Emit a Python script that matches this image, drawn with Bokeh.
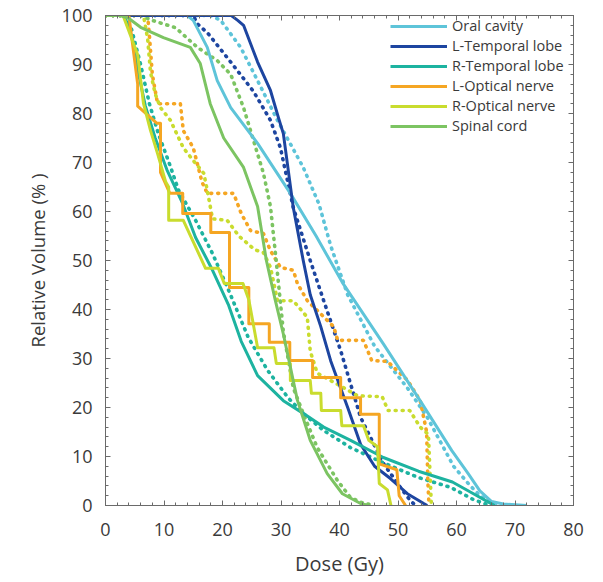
from bokeh.plotting import figure
from bokeh.models import LinearAxis, Range1d, FixedTicker
from bokeh.embed import file_html
from bokeh.resources import INLINE

# ---------------- data (Dose in Gy, Relative volume in %) ----------------
series_names = ["Oral cavity", "L-Temporal lobe", "R-Temporal lobe",
                "L-Optical nerve", "R-Optical nerve", "Spinal cord"]
series_colors = ["#5ec4d9", "#1d45a0", "#1db3a0", "#f5a623", "#c9dc2e", "#7cc462"]

oral_solid_x = [0, 14, 15, 17.4, 19.1, 21.4, 26, 31.6, 36, 40.5, 47.5, 54, 59.2, 62, 64, 66, 68, 72]
oral_solid_y = [100, 100, 99, 93.5, 86.7, 81.2, 73.9, 63.7, 55, 45.5, 33, 21, 11.2, 6.5, 3, 0.8, 0.3, 0]
oral_dot_x = [0, 18, 19.7, 23.1, 26, 29.4, 33.8, 36.5, 38.5, 41.4, 46, 51.6, 55, 59.5, 62, 64, 66, 67]
oral_dot_y = [100, 100, 99, 93.5, 86.7, 78.6, 69, 61.5, 53, 43, 32.5, 24, 18, 8, 4.5, 2, 0.5, 0]

ltemp_solid_x = [0, 21.5, 22.6, 23.6, 26, 28.2, 29.6, 30.4, 32.1, 33.8, 35, 36.8, 38.5, 41.4, 43.6, 46, 48.7, 51.6, 54.4, 55]
ltemp_solid_y = [100, 100, 99, 98, 90.5, 84.7, 79, 75.9, 60.8, 50, 43, 36.5, 29.5, 20, 12.5, 8, 5.5, 2.4, 0.4, 0]
ltemp_dot_x = [0, 15, 15.7, 17.4, 21.4, 25.3, 28.2, 29.9, 32.1, 35, 37.3, 40.2, 43.6, 47.5, 50.4, 52.1, 53]
ltemp_dot_y = [100, 100, 98.3, 96.5, 90.5, 84.5, 78.6, 73, 60.8, 50, 41.8, 31.6, 18, 8.6, 3.7, 1, 0]

rtemp_solid_x = [0, 3, 3.4, 4.6, 5.6, 6.8, 8.5, 10.5, 13.2, 15.4, 18.3, 21, 23.2, 26, 30.4, 33.8, 37.3, 41.9, 47.5, 53.5, 59.3, 62.9, 65, 66.5]
rtemp_solid_y = [100, 100, 99.4, 95.3, 88.4, 81.6, 75, 68.5, 61.6, 54.7, 48, 41, 33.5, 26.5, 21.4, 18.8, 16, 13.3, 9.8, 7, 4.8, 2.4, 1, 0]
rtemp_dot_x = [0, 3.5, 4.5, 6, 7.5, 9, 11, 12.5, 15.4, 18.3, 21.2, 24.4, 27.7, 31.2, 33.8, 37.3, 41.9, 47.5, 53.5, 59, 62.9, 65, 66.5]
rtemp_dot_y = [100, 100, 97, 90, 82, 76, 69.5, 64.3, 58.2, 51.4, 43.5, 34.3, 27.6, 22, 18.8, 15.3, 11.8, 8.7, 5.7, 3.7, 1.2, 0.3, 0]

lopt_solid_x = [0, 4, 5.5, 5.5, 8.8, 9.4, 9.4, 11, 13.2, 13.2, 18, 18, 21.2, 21.2, 24.5, 24.5, 28, 28,
                31.5, 31.5, 35.4, 35.4, 40.2, 40.2, 43.6, 43.6, 46.8, 46.8, 49.8, 50.2, 51.3]
lopt_solid_y = [100, 100, 86, 81.5, 78, 78, 68, 63.7, 63.7, 59.6, 59.6, 55.7, 55.7, 44.5, 44.5, 37.1, 37.1, 33.3,
                33.3, 29.6, 29.6, 26.1, 26.1, 22, 22, 18.6, 18.6, 8.5, 7.3, 2, 0]
lopt_dot_x = [0, 7.2, 7.5, 8, 8.9, 12.8, 13.3, 15, 16.5, 17.4, 21.9, 23.2, 24.8, 27, 28.2, 29.9, 32.1, 32.8,
              34.5, 36.2, 39, 39.7, 44.1, 45.5, 48.2, 51.6, 53.8, 54.9, 55.1, 55.3]
lopt_dot_y = [100, 100, 96, 88, 82, 82, 76.5, 73, 66, 63.7, 63.7, 59.6, 56.1, 55.5, 52, 48.6, 48, 45.3,
              41.8, 39.8, 36.5, 33.7, 33.7, 29.6, 29.4, 25.6, 21.4, 15, 5, 0]

ropt_solid_x = [0, 3, 5.5, 6.5, 7.7, 8.9, 10.3, 10.8, 10.8, 13.3, 17.1, 19.3, 20.3, 23.5, 24.5, 26, 28.8, 29.2,
                31.6, 31.6, 35, 35.2, 36.8, 36.9, 40.2, 40.4, 44.1, 45, 46.5, 46.8, 48.2, 48.8]
ropt_solid_y = [100, 100, 92, 82, 76.5, 71.8, 66, 65, 58.2, 58.2, 48.4, 48.4, 45.3, 45.3, 42, 32.2, 32.2, 29,
                29, 25.5, 25.5, 22.9, 22.9, 19.4, 19.4, 16.3, 16.3, 13.3, 12, 4.5, 3.2, 0]
ropt_dot_x = [0, 6.5, 7.2, 7.7, 8.5, 9.4, 11.1, 13.3, 15, 16.8, 17.4, 18.3, 20.8, 22.8, 25.5, 27, 28.2, 29.4,
              32.1, 34.5, 35, 36.2, 38.5, 41.5, 43.1, 47.3, 48.3, 52, 53.8, 55.2, 55.7]
ropt_dot_y = [100, 100, 95.3, 88.4, 84, 81.2, 78.6, 73, 70.4, 67.8, 64.3, 58.5, 58.2, 55, 52.2, 51.6, 48.6, 41.8,
              41.8, 38.4, 31.5, 27, 25.5, 23.5, 22.4, 22.2, 19.4, 19.4, 16, 14.5, 0]

spinal_solid_x = [0, 2.5, 4, 6, 9.9, 14.5, 16.2, 17.9, 20.2, 23.6, 26, 27.5, 29, 30.4, 32.8, 35, 37.9, 40.5, 43.6, 45]
spinal_solid_y = [100, 100, 99.4, 97.6, 95.5, 93.5, 90.2, 82, 75, 69, 61, 50, 42, 35, 21.5, 13.3, 6.5, 2.4, 0.4, 0]
spinal_dot_x = [0, 6, 8, 12, 15.7, 19.1, 21.4, 23.6, 25.3, 27, 28.2, 29, 29.6, 30.4, 32.1, 33.8, 36.2, 39.7, 41.9, 44, 46]
spinal_dot_y = [100, 100, 99, 97.5, 93.5, 90.8, 88, 81.2, 74.5, 67.8, 61, 52, 45, 35.5, 24, 18.8, 11.8, 5, 1.6, 0.5, 0]

x_ticks = [0, 10, 20, 30, 40, 50, 60, 70, 80]
y_ticks = [0, 10, 20, 30, 40, 50, 60, 70, 80, 90, 100]

solid_series = [(oral_solid_x, oral_solid_y), (ltemp_solid_x, ltemp_solid_y), (rtemp_solid_x, rtemp_solid_y),
                (lopt_solid_x, lopt_solid_y), (ropt_solid_x, ropt_solid_y), (spinal_solid_x, spinal_solid_y)]
dotted_series = [(oral_dot_x, oral_dot_y), (ltemp_dot_x, ltemp_dot_y), (rtemp_dot_x, rtemp_dot_y),
                 (lopt_dot_x, lopt_dot_y), (ropt_dot_x, ropt_dot_y), (spinal_dot_x, spinal_dot_y)]

FONT = "Open Sans"
TXT = "#3a3a3a"
AX = "#6a6a6a"

p = figure(width=600, height=580, output_backend="svg", toolbar_location=None,
           x_range=Range1d(0, 80), y_range=Range1d(0, 100),
           min_border_left=105, min_border_right=27, min_border_top=15, min_border_bottom=75)
p.background_fill_color = "white"
p.border_fill_color = "white"
p.outline_line_color = AX
p.outline_line_width = 1
p.xgrid.visible = False
p.ygrid.visible = False

for (xs, ys), c in zip(dotted_series, series_colors):
    p.line(xs, ys, line_color=c, line_width=3.6, line_dash="1 6", line_cap="round")
for (xs, ys), c, n in zip(solid_series, series_colors, series_names):
    p.line(xs, ys, line_color=c, line_width=3, legend_label=n, line_join="round")

top_axis = LinearAxis()
right_axis = LinearAxis()
p.add_layout(top_axis, "above")
p.add_layout(right_axis, "right")


def style_axis(ax, ticks, show_labels):
    ax.ticker = FixedTicker(ticks=ticks, minor_ticks=list(range(0, 101, 2)))
    ax.axis_line_color = AX
    ax.major_tick_in = 5
    ax.major_tick_out = 0
    ax.minor_tick_in = 3
    ax.minor_tick_out = 0
    ax.major_tick_line_color = AX
    ax.minor_tick_line_color = AX
    if show_labels:
        ax.major_label_text_font = FONT
        ax.major_label_text_font_size = "18px"
        ax.major_label_text_color = TXT
        ax.axis_label_text_font = FONT
        ax.axis_label_text_font_style = "normal"
        ax.axis_label_text_color = TXT
    else:
        ax.major_label_text_font_size = "1px"
        ax.major_label_text_color = None
        ax.major_label_text_alpha = 0
        ax.major_label_standoff = 0


bottom_axis = p.below[0]
left_axis = p.left[0]
bottom_axis.axis_label = "Dose (Gy)"
left_axis.axis_label = "Relative Volume (% )"

style_axis(bottom_axis, x_ticks, True)
style_axis(top_axis, x_ticks, False)
style_axis(left_axis, y_ticks, True)
style_axis(right_axis, y_ticks, False)

bottom_axis.axis_label_text_font_size = "20px"
left_axis.axis_label_text_font_size = "18.5px"
bottom_axis.major_label_standoff = 17
bottom_axis.axis_label_standoff = 11
left_axis.major_label_standoff = 13
left_axis.axis_label_standoff = 9

leg = p.legend[0]
leg.location = (285, 370)
leg.border_line_color = None
leg.background_fill_alpha = 0
leg.padding = 0
leg.margin = 0
leg.spacing = 1
leg.glyph_width = 57
leg.glyph_height = 18
leg.label_height = 18
leg.label_standoff = 5
leg.label_text_font = FONT
leg.label_text_font_size = "14.5px"
leg.label_text_line_height = 1.0
leg.label_text_color = TXT
leg.label_text_baseline = "middle"

open("out.html", "w").write(file_html(p, INLINE))
